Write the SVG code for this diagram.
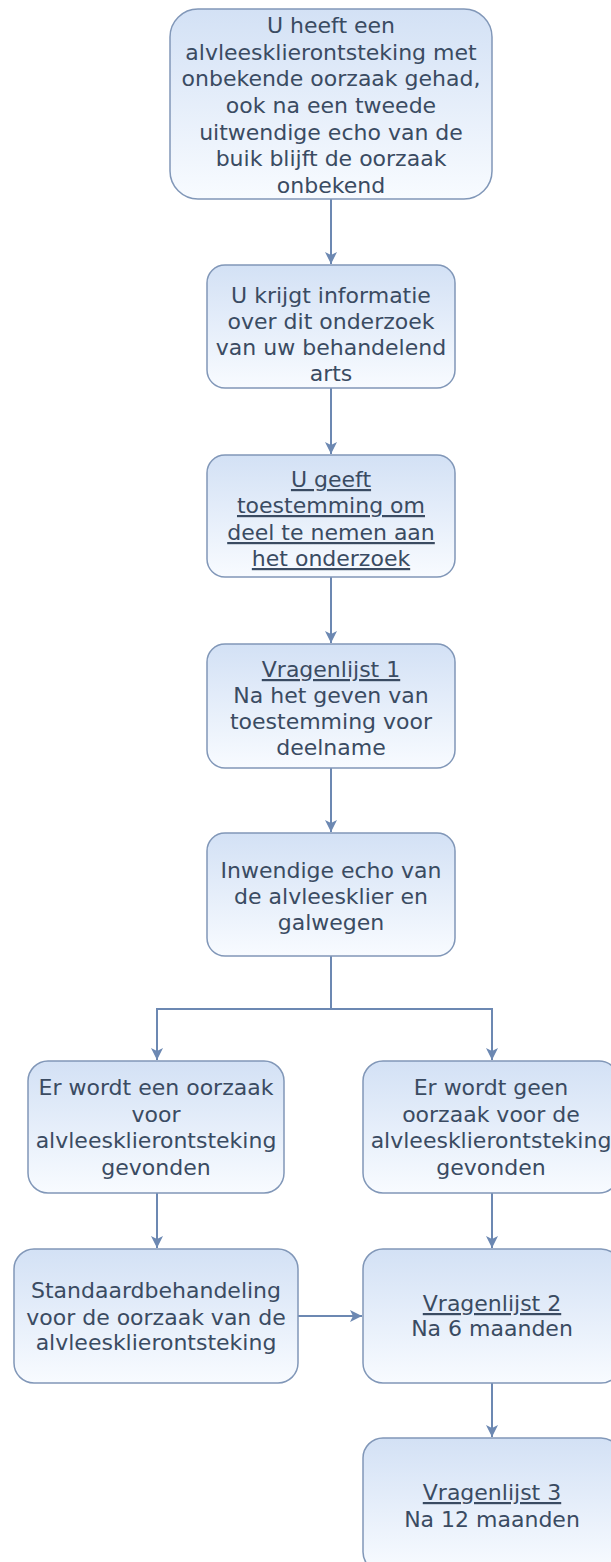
<svg xmlns="http://www.w3.org/2000/svg" width="611" height="1562" viewBox="0 0 611 1562">
<style>
.box{fill:url(#g);stroke:#8197b8;stroke-width:1.5}
.t{font-family:"DejaVu Sans","Liberation Sans",sans-serif;font-size:22px;fill:#3a4b62;text-anchor:middle}
.u{text-decoration:underline}
.c{fill:none;stroke:#6c88b2;stroke-width:2}
</style>
<defs>
<linearGradient id="g" x1="0" y1="0" x2="0" y2="1">
<stop offset="0" stop-color="#d3e1f5"/>
<stop offset="1" stop-color="#f8fbff"/>
</linearGradient>
<marker id="a" markerWidth="14" markerHeight="14" viewBox="0 0 14 14" refX="12" refY="7" orient="auto" markerUnits="userSpaceOnUse">
<path d="M0,1 L12,7 L0,13 L3,7 Z" fill="#6c88b2"/>
</marker>
</defs>
<rect width="611" height="1562" fill="#ffffff"/>
<g id="connectors">
<path class="c" d="M331,199 V264" marker-end="url(#a)"/>
<path class="c" d="M331,388 V454" marker-end="url(#a)"/>
<path class="c" d="M331,577 V643" marker-end="url(#a)"/>
<path class="c" d="M331,768 V832" marker-end="url(#a)"/>
<path class="c" d="M331,956 V1009 H157 V1060" marker-end="url(#a)"/>
<path class="c" d="M331,1009 H492 V1060" marker-end="url(#a)"/>
<path class="c" d="M157,1193 V1248" marker-end="url(#a)"/>
<path class="c" d="M492,1193 V1248" marker-end="url(#a)"/>
<path class="c" d="M298,1316 H362" marker-end="url(#a)"/>
<path class="c" d="M492,1383 V1437" marker-end="url(#a)"/>
</g>
<g id="n1">
<rect class="box" x="170" y="9" width="322" height="190" rx="28"/>
<text class="t"><tspan x="331" y="33">U heeft een</tspan><tspan x="331" y="60">alvleesklierontsteking met</tspan><tspan x="331" y="86">onbekende oorzaak gehad,</tspan><tspan x="331" y="113">ook na een tweede</tspan><tspan x="331" y="140">uitwendige echo van de</tspan><tspan x="331" y="166">buik blijft de oorzaak</tspan><tspan x="331" y="193">onbekend</tspan></text>
</g>
<g id="n2">
<rect class="box" x="207" y="265" width="248" height="123" rx="18"/>
<text class="t"><tspan x="331" y="303">U krijgt informatie</tspan><tspan x="331" y="329">over dit onderzoek</tspan><tspan x="331" y="355">van uw behandelend</tspan><tspan x="331" y="381">arts</tspan></text>
</g>
<g id="n3">
<rect class="box" x="207" y="455" width="248" height="122" rx="18"/>
<text class="t"><tspan class="u" x="331" y="487">U geeft</tspan><tspan class="u" x="331" y="513">toestemming om</tspan><tspan class="u" x="331" y="540">deel te nemen aan</tspan><tspan class="u" x="331" y="566">het onderzoek</tspan></text>
</g>
<g id="n4">
<rect class="box" x="207" y="644" width="248" height="124" rx="18"/>
<text class="t"><tspan class="u" x="331" y="677">Vragenlijst 1</tspan><tspan x="331" y="703">Na het geven van</tspan><tspan x="331" y="729">toestemming voor</tspan><tspan x="331" y="755">deelname</tspan></text>
</g>
<g id="n5">
<rect class="box" x="207" y="833" width="248" height="123" rx="18"/>
<text class="t"><tspan x="331" y="878">Inwendige echo van</tspan><tspan x="331" y="904">de alvleesklier en</tspan><tspan x="331" y="930">galwegen</tspan></text>
</g>
<g id="n6">
<rect class="box" x="28" y="1061" width="256" height="132" rx="20"/>
<text class="t"><tspan x="156" y="1095">Er wordt een oorzaak</tspan><tspan x="156" y="1122">voor</tspan><tspan x="156" y="1148">alvleesklierontsteking</tspan><tspan x="156" y="1175">gevonden</tspan></text>
</g>
<g id="n7">
<rect class="box" x="363" y="1061" width="256" height="132" rx="20"/>
<text class="t"><tspan x="491" y="1095">Er wordt geen</tspan><tspan x="491" y="1122">oorzaak voor de</tspan><tspan x="491" y="1148">alvleesklierontsteking</tspan><tspan x="491" y="1175">gevonden</tspan></text>
</g>
<g id="n8">
<rect class="box" x="14" y="1249" width="284" height="134" rx="20"/>
<text class="t"><tspan x="156" y="1298">Standaardbehandeling</tspan><tspan x="156" y="1325">voor de oorzaak van de</tspan><tspan x="156" y="1350">alvleesklierontsteking</tspan></text>
</g>
<g id="n9">
<rect class="box" x="363" y="1249" width="258" height="134" rx="20"/>
<text class="t"><tspan class="u" x="492" y="1311">Vragenlijst 2</tspan><tspan x="492" y="1336">Na 6 maanden</tspan></text>
</g>
<g id="n10">
<rect class="box" x="363" y="1438" width="258" height="134" rx="20"/>
<text class="t"><tspan class="u" x="492" y="1500">Vragenlijst 3</tspan><tspan x="492" y="1527">Na 12 maanden</tspan></text>
</g>
</svg>
